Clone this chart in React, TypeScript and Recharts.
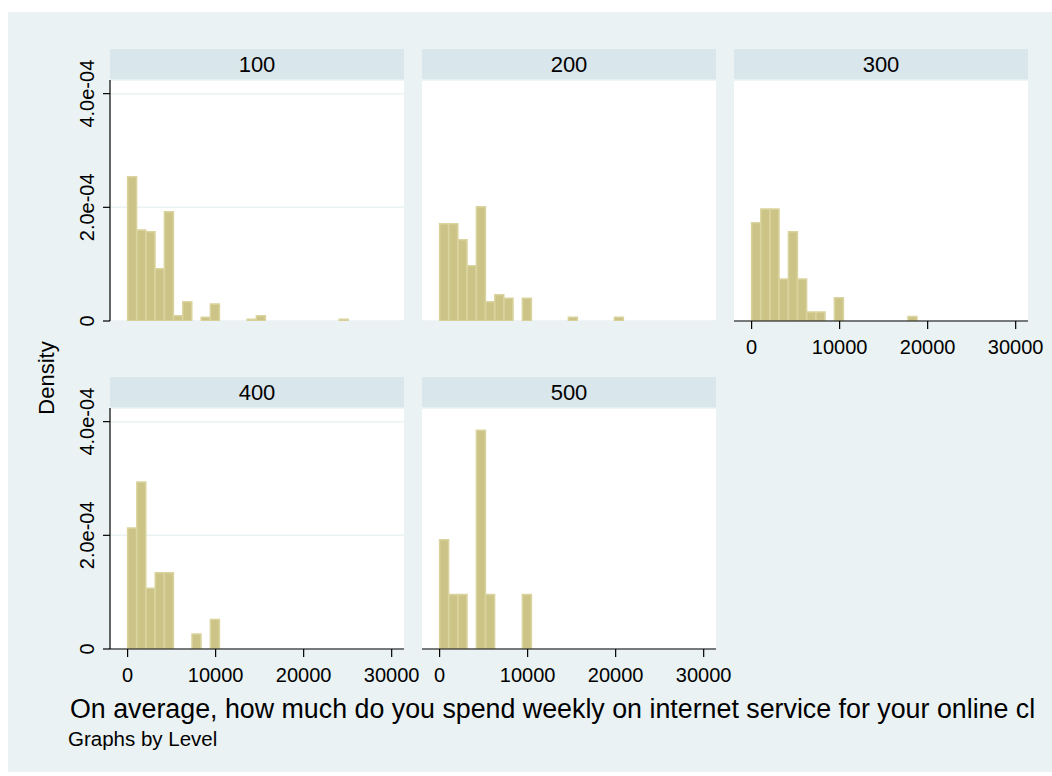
import React from 'react';
import { BarChart, Bar, XAxis, YAxis, CartesianGrid } from 'recharts';

// histogram bins: width in spending units, 30 bins starting at 0
const BIN = 1045;
const N_BINS = 30;

const levels = ['100', '200', '300', '400', '500'];

// non-empty bins per level (bin index) and their density, in units of 1e-4
const bins100 = [0, 1, 2, 3, 4, 5, 6, 8, 9, 13, 14, 23];
const dens100 = [2.54, 1.6, 1.57, 0.92, 1.92, 0.094, 0.34, 0.064, 0.3, 0.03, 0.094, 0.03];
const bins200 = [0, 1, 2, 3, 4, 5, 6, 7, 9, 14, 19];
const dens200 = [1.71, 1.71, 1.43, 0.97, 2.01, 0.34, 0.46, 0.4, 0.4, 0.064, 0.064];
const bins300 = [0, 1, 2, 3, 4, 5, 6, 7, 9, 17];
const dens300 = [1.73, 1.97, 1.97, 0.74, 1.57, 0.74, 0.16, 0.16, 0.41, 0.08];
const bins400 = [0, 1, 2, 3, 4, 7, 9];
const dens400 = [2.13, 2.94, 1.07, 1.34, 1.34, 0.265, 0.52];
const bins500 = [0, 1, 2, 4, 5, 9];
const dens500 = [1.92, 0.96, 0.96, 3.85, 0.96, 0.96];

const xTicks = [0, 10000, 20000, 30000];
const yTicks = [0, 2e-4, 4e-4];

const series: Record<string, [number[], number[]]> = {
  '100': [bins100, dens100],
  '200': [bins200, dens200],
  '300': [bins300, dens300],
  '400': [bins400, dens400],
  '500': [bins500, dens500],
};

const buildTable = (bins: number[], dens: number[]) =>
  Array.from({ length: N_BINS }, (_, i) => {
    const k = bins.indexOf(i);
    return { x: (i + 0.5) * BIN, d: k >= 0 ? dens[k] * 1e-4 : 0 };
  });

const FONT = '"Liberation Sans", Arial, Helvetica, sans-serif';
const BG = '#EAF2F3';
const STRIP = '#D9E6EB';
const PLOT_W = 294;
const PLOT_H = 241;
const AX_W = 50;
const AX_H = 45;
const PAD_T = 30;
const PAD_R = 20;
const X_DOMAIN = [-2000, 31400];
const Y_MAX = 4.24e-4;

const fmtY = (v: number) => {
  if (v === 0) return '0';
  const [m, e] = v.toExponential(1).split('e');
  return `${m}e${e[0]}${e.slice(1).padStart(2, '0')}`;
};

const YTick = (props: any) => {
  const { x, y, payload } = props;
  return (
    <text x={x} y={y} transform={`rotate(-90 ${x} ${y})`} textAnchor="middle" fontSize={20} fill="#000" fontFamily={FONT}>
      {fmtY(payload.value)}
    </text>
  );
};

interface PanelProps {
  level: string;
  left: number;
  top: number;
  showX: boolean;
  showY: boolean;
}

const Panel: React.FC<PanelProps> = ({ level, left, top, showX, showY }) => {
  const [bins, dens] = series[level];
  const data = buildTable(bins, dens);
  const w = AX_W + PLOT_W + PAD_R;
  const h = PAD_T + PLOT_H + AX_H;
  return (
    <>
      <div
        style={{
          position: 'absolute', left, top: top - 31, width: PLOT_W, height: 31, background: STRIP,
          textAlign: 'center', lineHeight: '31px', fontSize: 22, fontFamily: FONT, color: '#000',
        }}
      >
        {level}
      </div>
      <div style={{ position: 'absolute', left: left - AX_W, top: top - PAD_T, width: w, height: h }}>
        <BarChart width={w} height={h} data={data} margin={{ top: PAD_T, right: PAD_R, left: 0, bottom: 0 }} barCategoryGap={0} barGap={0}>
          <CartesianGrid vertical={false} stroke={BG} strokeWidth={1.5} fill="#fff" fillOpacity={1} />
          <XAxis
            type="number"
            dataKey="x"
            domain={X_DOMAIN}
            ticks={xTicks}
            allowDataOverflow
            interval={0}
            height={AX_H}
            tickSize={8}
            tickMargin={11}
            axisLine={showX ? { stroke: '#000', strokeWidth: 1.2 } : false}
            tickLine={showX ? { stroke: '#000', strokeWidth: 1.2 } : false}
            tick={showX ? { fontSize: 20, fill: '#000', fontFamily: FONT } : false}
          />
          <YAxis
            type="number"
            domain={[0, Y_MAX]}
            ticks={yTicks}
            allowDataOverflow
            interval={0}
            width={AX_W}
            tickSize={7}
            tickMargin={9}
            axisLine={showY ? { stroke: '#000', strokeWidth: 1.2 } : false}
            tickLine={showY ? { stroke: '#000', strokeWidth: 1.2 } : false}
            tick={showY ? <YTick /> : false}
          />
          <Bar dataKey="d" fill="#CCC487" stroke="#DAD39E" strokeWidth={1.5} isAnimationActive={false} />
        </BarChart>
      </div>
    </>
  );
};

const colLeft = [110, 422, 734];
const rowTop = [80, 408];

export default function App() {
  return (
    <div style={{ position: 'absolute', left: 0, top: 0, width: 1052, height: 776, background: '#fff', fontFamily: FONT }}>
      <div style={{ position: 'absolute', left: 8, top: 12, width: 1044, height: 760, background: BG }} />
      {levels.map((lv, i) => {
        const r = Math.floor(i / 3);
        const c = i % 3;
        // x axis shown on the bottom panel of each column, y axis on the first column
        const showX = r === 1 || c === 2;
        return <Panel key={lv} level={lv} left={colLeft[c]} top={rowTop[r]} showX={showX} showY={c === 0} />;
      })}
      <div
        style={{
          position: 'absolute', left: 47, top: 378, transform: 'translate(-50%, -50%) rotate(-90deg)',
          fontSize: 22, whiteSpace: 'nowrap', color: '#000',
        }}
      >
        Density
      </div>
      <div style={{ position: 'absolute', left: 70, top: 694, fontSize: 26.8, whiteSpace: 'nowrap', color: '#000' }}>
        On average, how much do you spend weekly on internet service for your online cl
      </div>
      <div style={{ position: 'absolute', left: 68, top: 727, fontSize: 20.5, whiteSpace: 'nowrap', color: '#000' }}>
        Graphs by Level
      </div>
    </div>
  );
}
